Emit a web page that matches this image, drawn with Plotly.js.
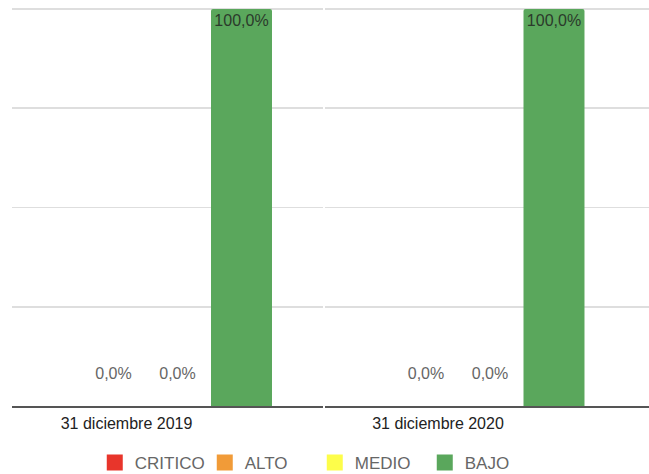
<!DOCTYPE html>
<html>
<head>
<meta charset="utf-8">
<script src="https://cdn.plot.ly/plotly-3.0.1.min.js"></script>
<style>html,body{margin:0;padding:0;background:#fff;}#chart{width:649px;height:474px;}</style>
</head>
<body>
<div id="chart"></div>
<script>
const fechas = ["31 diciembre 2019", "31 diciembre 2020"];
const series = ["CRITICO", "ALTO", "MEDIO", "BAJO"];
const colores = ["#e8352b", "#f19b38", "#fdfd4a", "#5aa75c"];
const valores = {
  CRITICO: [null, null],
  ALTO: [0, 0],
  MEDIO: [0, 0],
  BAJO: [100, 100]
};

const FONT = "'Liberation Sans', Arial, sans-serif";
const fmt = v => (v === null ? "" : v.toFixed(1).replace(".", ",") + "%");

const traces = [];
fechas.forEach((f, i) => {
  series.forEach((s, k) => {
    const v = valores[s][i];
    const inside = (v !== null && v > 50);
    traces.push({
      type: "bar",
      name: s,
      legendgroup: s,
      showlegend: false,
      x: [f],
      y: [v],
      xaxis: i === 0 ? "x" : "x2",
      yaxis: i === 0 ? "y" : "y2",
      marker: {color: colores[k], line: {width: 0}, cornerradius: 2},
      text: [fmt(v)],
      texttemplate: inside ? "%{text}" : "%{text}<br>\u00a0",
      textposition: inside ? "inside" : "outside",
      insidetextanchor: "end",
      constraintext: "none",
      cliponaxis: false,
      outsidetextfont: {family: FONT, size: 16, color: "#666666"},
      insidetextfont: {family: FONT, size: 16, color: "#2b3a2b"},
      hoverinfo: "skip"
    });
  });
});
// legend entries (square swatches)
series.forEach((s, k) => {
  traces.push({
    type: "scatter", mode: "markers", name: s, legendgroup: s, showlegend: true,
    x: [null], y: [null], xaxis: "x", yaxis: "y",
    marker: {symbol: "square", size: 16, color: colores[k]},
    hoverinfo: "skip"
  });
});

const yax = {
  range: [0, 100.5], dtick: 25, showticklabels: false, zeroline: false,
  showgrid: true, gridcolor: "#dedede", gridwidth: 1.5, showline: false, fixedrange: true
};
const xbase = {
  type: "category", showgrid: false, zeroline: false,
  showline: true, linecolor: "#555555", linewidth: 2,
  ticks: "", ticklabelstandoff: 2, tickfont: {family: FONT, size: 16, color: "#222222"}
};

const layout = {
  width: 649, height: 474,
  margin: {l: 0, r: 0, t: 7, b: 68, autoexpand: false},
  paper_bgcolor: "#ffffff", plot_bgcolor: "rgba(0,0,0,0)",
  barmode: "group", bargap: 0.2, bargroupgap: 0.047,
  font: {family: FONT, size: 16, color: "#666666"},
  xaxis: Object.assign({}, xbase, {domain: [12/649, 323/649], range: [-0.4172, 0.5547], anchor: "y", ticklabelshift: -19}),
  xaxis2: Object.assign({}, xbase, {domain: [325/649, 1], range: [-0.4156, 0.5969], anchor: "y2", ticklabelshift: -20}),
  yaxis: Object.assign({}, yax, {domain: [0, 1], anchor: "x"}),
  yaxis2: Object.assign({}, yax, {domain: [0, 1], anchor: "x2"}),
  legend: {
    orientation: "h", x: 0.485, xanchor: "center", y: -0.143, yanchor: "middle",
    entrywidth: 65, entrywidthmode: "pixels",
    font: {family: FONT, size: 17, color: "#666666"}, traceorder: "normal"
  },
  showlegend: true
};

Plotly.newPlot("chart", traces, layout, {displayModeBar: false, staticPlot: true});
</script>
</body>
</html>
